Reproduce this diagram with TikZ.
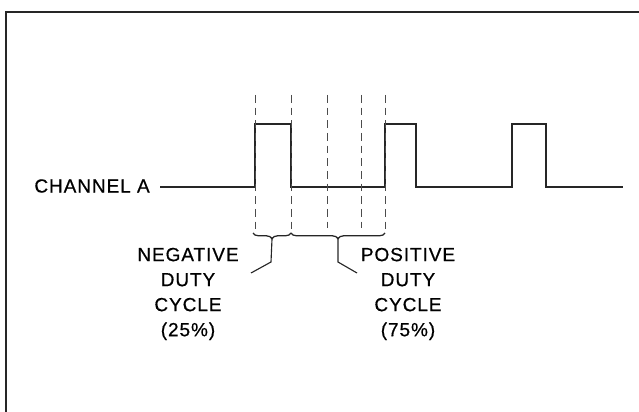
\documentclass[tikz,border=0pt]{standalone}
\usepackage{fontspec}
\newfontfamily\labelfont{Liberation Sans}[LetterSpace=5,FakeBold=0.6]
\usetikzlibrary{decorations.pathreplacing}

\tikzset{
  frame/.style={black!85,line width=2pt},
  signal/.style={black!85,line width=1.5pt},
  guide/.style={black!70,line width=0.5pt,dash pattern=on 5.5pt off 3.5pt},
  bracket/.style={black!85,line width=0.9pt,decorate,decoration={brace,mirror,amplitude=4pt}},
  leader/.style={black!85,line width=0.8pt},
  label/.style={font=\labelfont\fontsize{13.5}{17.8}\selectfont,align=center,inner sep=0pt}
}

\begin{document}
\begin{tikzpicture}[x=0.025cm,y=-0.025cm]
\useasboundingbox (0,0) rectangle (639,412);

% Levels (low / high)
\def\yl{187}
\def\yh{124}

% Frame
\draw[frame] (6,412) -- (6,12) -- (639,12);

% Labels
\node[label,anchor=east] (chan) at (150,186) {CHANNEL A};
\node[label] (neg) at (188,294) {NEGATIVE\\DUTY\\CYCLE\\(25\%)};
\node[label] (pos) at (408,294) {POSITIVE\\DUTY\\CYCLE\\(75\%)};

% Channel A waveform
\coordinate (start) at (160,\yl);
\coordinate (stop) at (623,\yl);
\draw[signal] (start) -- (255,\yl) -- (255,\yh) -- (291,\yh) -- (291,\yl)
  -- (385,\yl) -- (385,\yh) -- (416,\yh) -- (416,\yl)
  -- (512,\yl) -- (512,\yh) -- (546,\yh) -- (546,\yl) -- (stop);

% Dashed guides
\foreach \x/\yb in {255/233,291/231,327/228,361/228,385/231}
  \draw[guide] (\x,95) -- (\x,\yb);

% Braces
\draw[bracket] (253,233) -- (291,233);
\draw[bracket] (291,233) -- (385,233);
\coordinate (tipneg) at (272,239);
\coordinate (tippos) at (338,239);
\coordinate (hookneg) at (251,273);
\coordinate (hookpos) at (357,273);

% Leaders to the labels
\draw[leader] (tipneg) -- (271,262) -- (hookneg);
\draw[leader] (tippos) -- (338,262) -- (hookpos);

\end{tikzpicture}
\end{document}
